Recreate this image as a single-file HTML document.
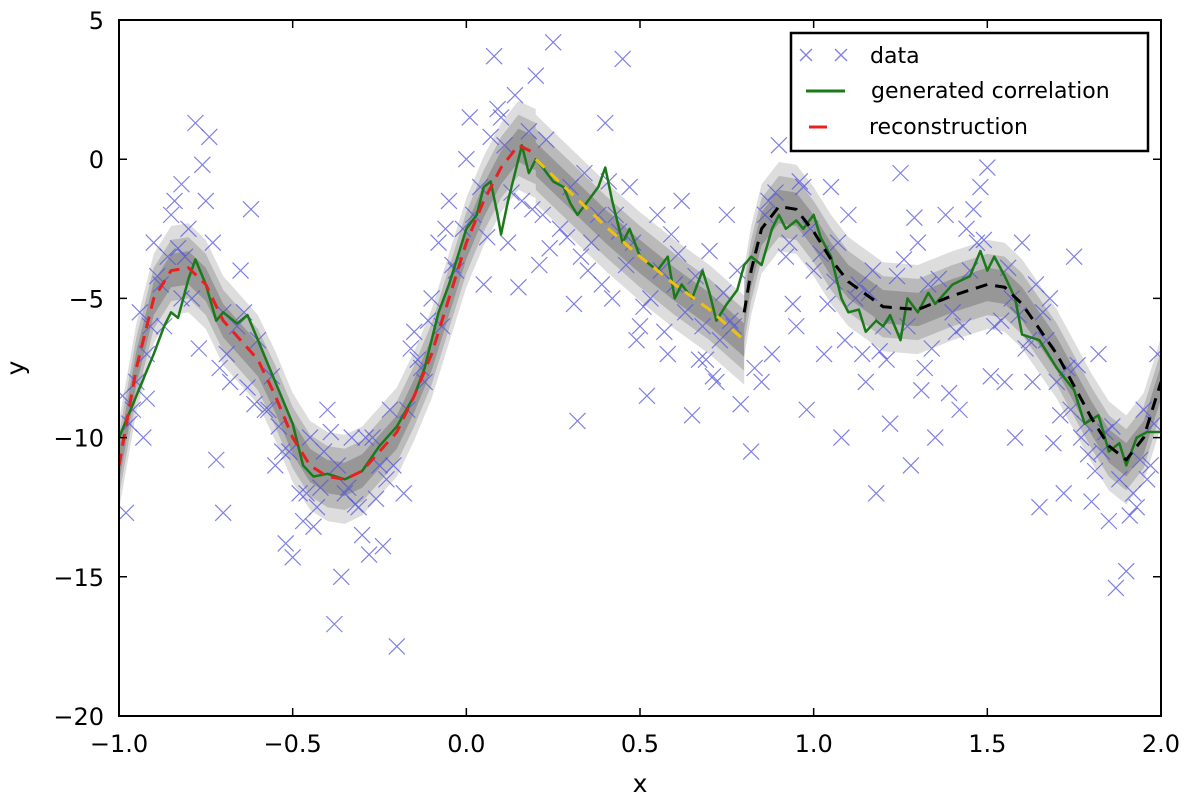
<!DOCTYPE html>
<html><head><meta charset="utf-8"><style>
html,body{margin:0;padding:0;background:#fff;}
svg{display:block;font-family:"DejaVu Sans","Liberation Sans",sans-serif;}
</style></head><body>
<svg id="chart" width="1200" height="799" viewBox="0 0 1200 799"></svg>
<script>
const xTicks=[-1.0,-0.5,0.0,0.5,1.0,1.5,2.0];
const xTickLabels=["\u22121.0","\u22120.5","0.0","0.5","1.0","1.5","2.0"];
const yTicks=[5,0,-5,-10,-15,-20];
const yTickLabels=["5","0","\u22125","\u221210","\u221215","\u221220"];
const reconRedX=[-1,-0.95,-0.9,-0.85,-0.8,-0.75,-0.7,-0.65,-0.6,-0.55,-0.5,-0.45,-0.4,-0.35,-0.3,-0.25,-0.2,-0.15,-0.1,-0.05,0,0.05,0.1,0.15,0.2];
const reconRedY=[-11,-7.5,-5,-4,-3.9,-4.5,-5.8,-6.5,-7.2,-8.5,-10,-11,-11.4,-11.5,-11.2,-10.5,-9.8,-8.5,-7,-5,-3,-1.5,-0.3,0.5,0.2];
const reconYellowX=[0.2,0.3,0.4,0.5,0.6,0.7,0.8];
const reconYellowY=[0,-1.2,-2.4,-3.5,-4.5,-5.4,-6.5];
const reconBlackX=[0.8,0.82,0.85,0.9,0.95,1.0,1.05,1.1,1.2,1.3,1.4,1.5,1.55,1.6,1.7,1.8,1.85,1.9,1.95,2.0];
const reconBlackY=[-5.5,-4,-2.5,-1.7,-1.8,-2.6,-3.6,-4.4,-5.3,-5.4,-4.9,-4.5,-4.6,-5.2,-7,-9.3,-10.3,-10.8,-10,-8];
const greenX=[-1,-0.95,-0.9,-0.87,-0.85,-0.83,-0.8,-0.78,-0.75,-0.72,-0.7,-0.66,-0.63,-0.6,-0.55,-0.5,-0.47,-0.44,-0.4,-0.35,-0.3,-0.25,-0.2,-0.15,-0.12,-0.08,-0.05,-0.02,0,0.03,0.05,0.07,0.09,0.1,0.12,0.14,0.16,0.18,0.2,0.22,0.25,0.28,0.3,0.32,0.35,0.38,0.4,0.42,0.45,0.47,0.5,0.52,0.55,0.58,0.6,0.62,0.65,0.68,0.7,0.72,0.75,0.78,0.8,0.82,0.85,0.88,0.9,0.92,0.95,0.97,1.0,1.02,1.05,1.08,1.1,1.13,1.15,1.18,1.2,1.22,1.25,1.27,1.3,1.33,1.35,1.4,1.45,1.48,1.5,1.52,1.55,1.58,1.6,1.65,1.7,1.75,1.78,1.82,1.85,1.88,1.9,1.93,1.96,2.0];
const greenY=[-10,-8.5,-7,-6,-5.5,-5.7,-4.3,-3.6,-4.5,-5.8,-5.5,-5.9,-5.6,-6.5,-8,-9.5,-11,-11.4,-11.3,-11.5,-11.2,-10.3,-9.6,-8.5,-7.5,-5.5,-4.5,-3.3,-2.5,-2,-1,-0.8,-2,-2.7,-1.5,-0.5,0.5,-0.5,0,-0.3,-0.8,-1,-1.6,-2,-1.5,-1,-0.3,-1.5,-3,-2.5,-3.5,-3.7,-4,-3.5,-5,-4.5,-5,-4,-4.8,-5.8,-5.2,-4.7,-3.8,-3.5,-3.8,-2.5,-2,-2.5,-2.2,-2.5,-2,-2.8,-3.5,-5,-5.5,-5.4,-6.2,-5.8,-6,-5.6,-6.5,-5,-5.5,-4.8,-5.2,-4.5,-4.2,-3.3,-4,-3.5,-4.2,-5,-6.3,-6.5,-7.5,-8.3,-9.5,-9.2,-10.5,-10.2,-11,-10,-9.8,-9.8];
const dataX=[-0.98,-0.97,-0.95,-0.93,-0.92,-0.9,-0.88,-0.87,-0.85,-0.83,-0.82,-0.8,-0.78,-0.76,-0.74,-0.75,-0.73,-0.7,-0.72,-0.7,-0.68,-0.65,-0.62,-0.6,-0.58,-0.55,-0.52,-0.5,-0.48,-0.45,-0.43,-0.4,-0.38,-0.36,-0.35,-0.33,-0.3,-0.28,-0.25,-0.22,-0.2,-0.18,-0.15,-0.12,-0.1,-0.08,-0.05,-0.03,0,0.02,0.05,0.08,0.1,0.12,0.15,0.18,0.2,0.25,0.22,0.3,0.32,0.35,0.38,0.4,0.42,0.45,0.47,0.5,0.52,0.55,0.58,0.6,0.62,0.65,0.68,0.7,0.72,0.75,0.78,0.82,0.85,0.88,0.9,0.93,0.95,0.98,1.0,1.03,1.05,1.08,1.1,1.12,1.15,1.18,1.2,1.22,1.25,1.28,1.3,1.32,1.35,1.38,1.4,1.42,1.45,1.48,1.5,1.52,1.55,1.58,1.6,1.62,1.65,1.68,1.7,1.72,1.75,1.78,1.8,1.82,1.85,1.87,1.9,1.92,1.95,1.97,1.99,
-0.96,-0.91,-0.86,-0.79,-0.69,-0.64,-0.57,-0.53,-0.46,-0.41,-0.37,-0.31,-0.27,-0.23,-0.17,-0.13,-0.07,-0.01,0.04,0.11,0.16,0.27,0.33,0.43,0.48,0.53,0.63,0.73,0.77,0.87,0.92,0.97,1.07,1.13,1.17,1.27,1.33,1.43,1.47,1.57,1.63,1.67,1.73,1.77,1.83,1.88,1.93,1.98,
-0.94,-0.84,-0.77,-0.66,-0.56,-0.47,-0.39,-0.29,-0.21,-0.14,-0.06,0.06,0.13,0.24,0.36,0.44,0.56,0.66,0.76,0.86,0.96,1.04,1.14,1.24,1.34,1.44,1.54,1.64,1.74,1.84,1.94,
-0.99,-0.89,-0.81,-0.71,-0.61,-0.51,-0.44,-0.34,-0.26,-0.16,-0.11,-0.04,0.01,0.07,0.14,0.19,0.23,0.29,0.34,0.39,0.46,0.51,0.57,0.61,0.67,0.71,0.74,0.79,0.83,0.89,0.94,0.99,1.02,1.09,1.16,1.21,1.26,1.31,1.36,1.41,1.46,1.51,1.56,1.61,1.66,1.71,1.76,1.81,1.86,1.91,1.96,
0.09,0.21,0.31,0.41,0.49,0.59,0.69,1.06,1.19,1.29,1.39,1.49,1.59,1.69,1.79,-0.42,-0.32,-0.24,-0.54,-0.63,-0.82,-0.92];
const dataY=[-12.7,-9.5,-8,-10,-7,-3,-4.5,-6,-2,-3.2,-5,-2.5,1.3,-0.2,0.8,-1.5,-3,-5.5,-10.8,-12.7,-8,-4,-1.8,-6.5,-9,-11,-13.8,-14.3,-12,-10,-12.5,-9,-16.7,-15,-12,-10,-13.5,-14.2,-11,-9,-17.5,-12,-6.2,-8,-5,-3,-1.5,-4,0,-2,-4.5,3.7,1.5,-3,-4.6,1,3,4.2,-2,-1,-9.4,-4,-2,1.3,-5,3.6,-1,-6,-8.5,-2,-7,-4.5,-1.5,-9.2,-6,-3.3,-8,-2,-4,-10.5,-8,-7,0.5,-3,-6,-9,-4,-7,-1,-10,-2,-5,-8,-12,-6,-9.5,-0.5,-11,-3,-7.5,-10,-2,-5.5,-9,-4,-1,-0.3,-6,-8,-10,-3,-6.5,-12.5,-5,-8,-12,-3.5,-9.5,-12.3,-7,-13,-15.4,-14.8,-12,-9,-11,-7,
-9,-6,-3.5,-5,-7,-5.5,-9,-10.5,-12,-10.5,-11,-12.5,-10,-11.5,-9,-7.5,-6,-2.5,-1,0.5,-1.5,-2.5,-3.5,-2,-3,-5,-5.5,-6.5,-6,-1.5,-3.5,-1,-3,-4.5,-4,-6,-4.5,-6,-3,-5,-8,-6.5,-7.5,-10,-10.5,-11.5,-12.5,-9.5,
-5.5,-1.5,-6.8,-6,-7.8,-13,-9.8,-10,-11,-7.2,-2.5,-2.8,-1.2,-3.2,-3,-2.6,-4,-4.2,-5.8,-2,-0.8,-5.2,-7,-4.2,-6.8,-2.5,-5.8,-4.5,-9,-9.8,-10.8,
-8.5,-4.2,-3.5,-7.5,-8.8,-10.5,-13.2,-11.8,-12.2,-6.8,-5.8,-3.8,1.5,0.8,2.3,-1.8,0.7,-2.8,-0.5,-4.5,-3.8,-5.3,-6.2,-3.4,-7.2,-7.8,-4.8,-8.8,-7.5,-1.2,-5.2,-2.5,-3.4,-6.5,-4.8,-7.2,-3.6,-8.3,-4.3,-6.2,-1.8,-7.8,-3.9,-6.8,-5.5,-9.2,-7.4,-11.2,-9.6,-12.8,-11.5,
1.8,-3.8,-5.2,-0.8,-6.5,-2.7,-7.2,-4.4,-6.9,-2.1,-8.4,-2.9,-5.6,-10.2,-10.6,-11.8,-12.4,-13.9,-9.6,-8.2,-0.9,-8.6];
const L=119,R=1161,T=20,B=716;
const sx=v=>L+(v+1)/3*(R-L);
const sy=v=>T+(5-v)/25*(B-T);
const svg=document.getElementById('chart');
const NS='http://www.w3.org/2000/svg';
function mk(tag,attrs,parent){const e=document.createElementNS(NS,tag);for(const k in attrs)e.setAttribute(k,attrs[k]);(parent||svg).appendChild(e);return e;}
const clip=mk('clipPath',{id:'pc'});mk('rect',{x:L,y:T,width:R-L,height:B-T},clip);
const g=mk('g',{'clip-path':'url(#pc)'});


function band(xs,ys,w,op,name){
  let up=xs.map((x,i)=>sx(x)+','+sy(ys[i]+w));
  let dn=xs.map((x,i)=>sx(x)+','+sy(ys[i]-w)).reverse();
  const p=mk('polygon',{points:up.concat(dn).join(' '),fill:'#555',opacity:op},g);
  
  
}
[[reconRedX,reconRedY],[reconYellowX,reconYellowY],[reconBlackX,reconBlackY]].forEach((s,i)=>{
  band(s[0],s[1],1.6,0.2,'uncertainty-band-outer');
  band(s[0],s[1],1.1,0.25,'uncertainty-band-mid');
  band(s[0],s[1],0.6,0.35,'uncertainty-band-inner');
});
for(let i=0;i<dataX.length;i++){
  const x=sx(dataX[i]),y=sy(dataY[i]),d=8;
  const m=mk('path',{d:`M${x-d},${y-d}L${x+d},${y+d}M${x-d},${y+d}L${x+d},${y-d}`,stroke:'#5555dd',
    'stroke-width':1.2,opacity:0.75,fill:'none'},g);
  
  
}
function line(xs,ys,col,w,dash,name){
  const p=mk('polyline',{points:xs.map((x,i)=>sx(x)+','+sy(ys[i])).join(' '),fill:'none',stroke:col,'stroke-width':w,'stroke-dasharray':dash||'none','stroke-linejoin':'round'},g);
  
  
}
line(greenX,greenY,'#1a7a1a',2.5,null,'generated-correlation-line');
line(reconRedX,reconRedY,'#e82020',3,'12,8','reconstruction-red');
line(reconYellowX,reconYellowY,'#f0c010',3,'12,8','reconstruction-yellow');
line(reconBlackX,reconBlackY,'#000',3,'12,8','reconstruction-black');
const frame=mk('rect',{x:L,y:T,width:R-L,height:B-T,fill:'none',stroke:'#000','stroke-width':2});


xTicks.forEach((v,i)=>{
  const x=sx(v);
  mk('path',{d:`M${x},${B}v-8M${x},${T}v8`,stroke:'#000','stroke-width':1.5});
  const t=mk('text',{x:x,y:752,'text-anchor':'middle','font-size':24});t.textContent=xTickLabels[i];
  
  
});
yTicks.forEach((v,i)=>{
  const y=sy(v);
  mk('path',{d:`M${L},${y}h8M${R},${y}h-8`,stroke:'#000','stroke-width':1.5});
  const t=mk('text',{x:104,y:y+9,'text-anchor':'end','font-size':24});t.textContent=yTickLabels[i];
  
  
});
</script>
<svg width="1200" height="799" style="position:absolute;left:0;top:0;font-family:'DejaVu Sans','Liberation Sans',sans-serif">
<text x="640" y="792" text-anchor="middle" font-size="25">x</text>
<text x="24" y="368" text-anchor="middle" font-size="25" transform="rotate(-90 24 368)">y</text>
<g>
<rect x="791" y="33" width="357" height="118" fill="#fff" stroke="#000" stroke-width="2.5"/>
<g>
<path d="M800,49l12,12M800,61l12,-12M835,49l12,12M835,61l12,-12" stroke="#5555dd" stroke-width="1.3" opacity="0.75"/>
<text x="870" y="63" font-size="22">data</text></g>
<g>
<line x1="806" y1="91" x2="845" y2="91" stroke="#1a7a1a" stroke-width="3"/>
<text x="871" y="98" font-size="22">generated correlation</text></g>
<g>
<line x1="809" y1="127" x2="827" y2="127" stroke="#e82020" stroke-width="3"/>
<text x="869" y="134" font-size="22">reconstruction</text></g>
</g>
</svg>
</body></html>
